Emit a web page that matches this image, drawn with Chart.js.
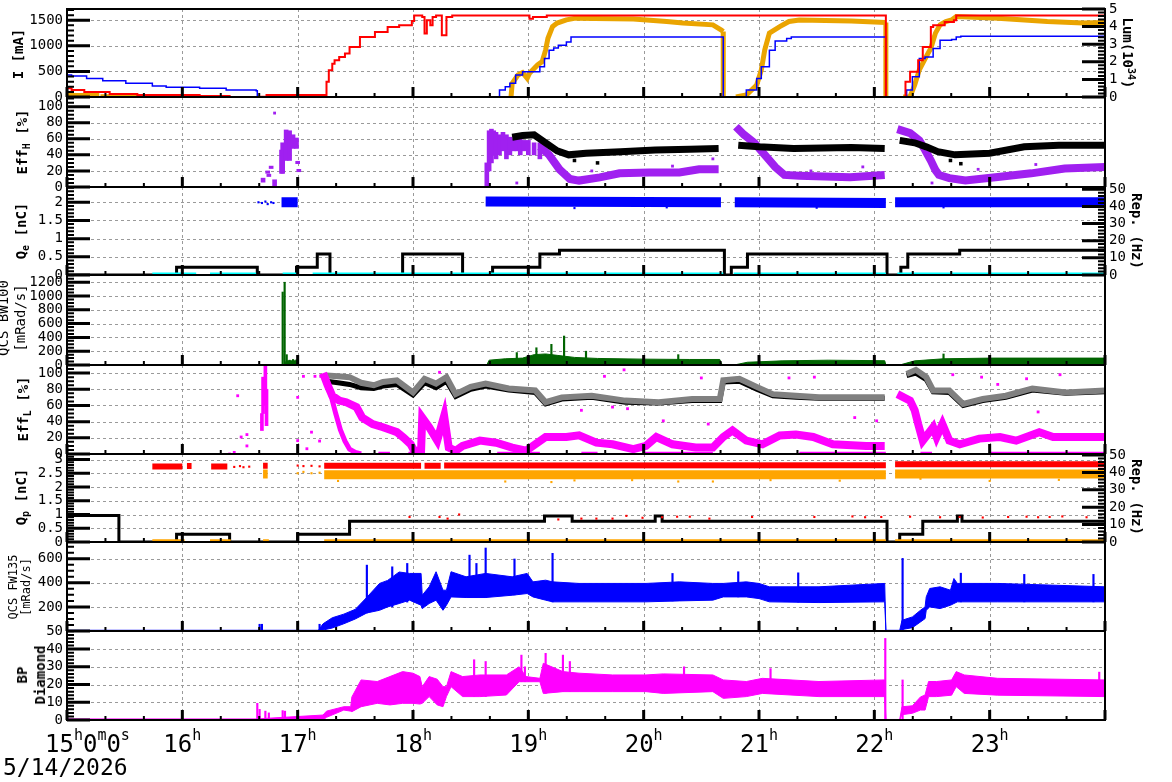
<!DOCTYPE html>
<html>
<head>
<meta charset="utf-8">
<title>Run summary 5/14/2026</title>
<script src="https://cdn.jsdelivr.net/npm/chart.js@4.4.1/dist/chart.umd.min.js"></script>
<style>
  body { margin: 0; background: #fff; }
  #wrap { position: relative; width: 1172px; height: 782px; overflow: hidden; font-family: "DejaVu Sans Mono", monospace; color: #000; }
  #wrap canvas { position: absolute; left: 0; }
  .ttl { position: absolute; white-space: nowrap; text-align: center; font-weight: bold; font-size: 14px; line-height: 17px;
         transform: translate(-50%, -50%) rotate(-90deg); }
  .ttl.r { transform: translate(-50%, -50%) rotate(90deg); }
  .ttl.thin { font-weight: normal; }
  .ttl sub, .ttl sup { font-size: 10px; line-height: 0; }
  #date { position: absolute; left: 3px; top: 756px; font-size: 23px; line-height: 23px; }
</style>
</head>
<body>
<div id="wrap">
  <div class="ttl" style="left:18px;top:54px">I [mA]</div>
  <div class="ttl r" style="left:1127px;top:53px">Lum(10<sup>34</sup>)</div>
  <div class="ttl" style="left:22px;top:142px">Eff<sub>H</sub> [%]</div>
  <div class="ttl" style="left:21px;top:231px">Q<sub>e</sub> [nC]</div>
  <div class="ttl r" style="left:1136px;top:231px">Rep. (Hz)</div>
  <div class="ttl thin" style="left:12px;top:318px">QCS BW100<br>[mRad/s]</div>
  <div class="ttl" style="left:23px;top:409px">Eff<sub>L</sub> [%]</div>
  <div class="ttl" style="left:21px;top:497px">Q<sub>p</sub> [nC]</div>
  <div class="ttl r" style="left:1136px;top:497px">Rep. (Hz)</div>
  <div class="ttl thin" style="left:20px;top:587px;font-size:12px;line-height:13px">QCS FW135<br>[mRad/s]</div>
  <div class="ttl" style="left:31px;top:675px;line-height:18px">BP<br>Diamond</div>
  <div id="date">5/14/2026</div>
</div>
<script>
// ---- time axis (hours of the day) ----
const hourLabels = [16, 17, 18, 19, 20, 21, 22, 23];

// ---- panel 1: beam currents [mA] and luminosity [1e34] ----
const iRedT = [15.00,15.04,15.15,15.37,15.61,16.15,16.41,16.67,16.73,17.23,17.25,17.27,17.30,17.32,17.36,17.41,17.45,17.54,17.67,17.78,17.88,17.99,18.01,18.08,18.10,18.12,18.15,18.17,18.20,18.25,18.29,18.34,18.98,19.01,19.04,19.16,22.10,22.22,22.27,22.31,22.38,22.42,22.49,22.51,22.61,22.69,22.71,24.00];
const iRedV = [169,136,97,58,39,19,0,6,39,39,300,525,650,720,784,850,979,1173,1270,1368,1401,1484,1595,1562,1239,1498,1400,1562,1595,1206,1562,1595,1595,1531,1562,1595,0,0,298,492,720,979,1368,1401,1465,1498,1595,1595];
const iBlueT = [15.00,15.04,15.17,15.31,15.51,15.74,15.86,16.15,16.38,16.64,16.65,17.00,18.68,18.75,18.80,18.84,18.89,18.95,19.10,19.14,19.18,19.22,19.26,19.33,19.37,20.69,20.82,20.89,20.98,21.02,21.09,21.14,21.24,21.28,22.10,22.22,22.28,22.33,22.39,22.44,22.51,22.57,22.67,22.71,22.75,24.00];
const iBlueV = [428,409,364,317,268,214,189,169,136,123,0,6,3,136,200,267,428,492,590,753,914,960,1012,1076,1173,0,0,136,364,590,914,1095,1142,1173,0,0,136,395,753,784,947,1109,1122,1173,1187,1187];
const lumT = [15.00,15.28,15.285,15.29,15.61,15.65,15.70,16.09,16.10,18.85,18.86,18.91,18.95,18.99,19.01,19.08,19.12,19.15,19.17,19.21,19.25,19.33,19.41,19.91,20.20,20.34,20.60,20.67,20.69,20.69,20.70,20.80,20.89,20.98,21.02,21.05,21.09,21.18,21.26,21.35,21.80,22.10,22.10,22.11,22.25,22.31,22.35,22.39,22.45,22.49,22.53,22.57,22.62,22.67,22.71,23.07,23.50,23.81,24.00];
const lumV = [0.08,0.08,null,0.01,0.01,null,0.01,0.01,null,0,0.78,1.25,1.38,1.06,1.35,1.82,2.01,2.68,3.34,4.0,4.2,4.38,4.48,4.43,4.29,4.2,4.1,3.82,3.72,0,null,0,0.11,0.68,1.54,2.68,3.63,4.0,4.29,4.38,4.32,4.23,0,null,0,0.02,0.68,1.54,2.29,2.77,3.63,4.1,4.29,4.38,4.57,4.48,4.29,4.2,4.23];

// ---- panel 2: HER efficiency [%] ----
const effHClT  = [16.70,16.74,16.75,16.77,16.80,16.86,16.87,16.90,16.93,16.96,16.99,17.00,17.01,18.64,18.66,18.68,18.70,18.72,18.75,18.78,18.81,18.84,18.87,18.90,18.93,18.96,19.00,19.05,19.10];
const effHClLo = [6,17,13,23,0,17,17,33,33,48,48,29,19,0,20,30,40,35,40,45,35,40,45,45,40,45,40,40,35];
const effHClHi = [11,20,16,26,9,46,55,71,70,65,61,32,22,30,70,72,70,68,65,68,65,62,60,62,60,58,58,55,55];
const effHPurT = [19.10,19.18,19.27,19.36,19.44,19.62,19.79,20.05,20.31,20.48,20.65,20.68,20.80,20.87,20.96,21.05,21.14,21.22,21.35,21.79,22.09,22.12,22.20,22.31,22.39,22.44,22.49,22.53,22.56,22.65,22.79,23.07,23.36,23.65,24.00];
const effHPurV = [50,40,22,10,8,12,17,18,18,22,22,null,75,65,55,40,25,15,14,12,15,null,72,67,58,46,33,21,15,11,8,12.5,17,23,25];
const effHBlkT = [18.86,18.95,19.05,19.15,19.25,19.35,19.50,19.80,20.10,20.40,20.65,20.68,20.82,21.00,21.30,21.80,22.09,22.12,22.22,22.35,22.45,22.55,22.70,23.00,23.30,23.60,24.00];
const effHBlkV = [62,64,65,55,45,40,42,44,46,47,48,null,52,50,48,49,48,null,58,55,50,44,40,42,50,52,52];
const effHPurDotT = [16.80,18.90,19.55,20.25,20.60,21.45,21.90,22.50,22.90,23.40];
const effHPurDotV = [92,5,20,26,35,20,25,5,22,28];
const effHBlkDotT = [19.40,19.60,22.66,22.75];
const effHBlkDotV = [33,30,33,29];

// ---- panel 3: e- bunch charge [nC], rep rate [Hz] ----
const qeT = [16.86,17.00,17.01,18.63,20.67,20.68,20.79,22.10,22.12,22.18,24.00];
const qeV = [2.0,2.0,null,2.02,2.0,null,2.0,1.98,null,2.0,2.0];
const qeDotT = [16.66,16.69,16.72,16.74,16.77,16.79,19.40,20.20,21.50,22.60];
const qeDotV = [2.0,1.98,2.02,1.95,2.0,1.98,1.84,1.86,1.85,1.86];
const cyanT = [15.74,16.12,16.13,16.24,16.64,16.65,16.87,17.01,17.02,17.13,20.69,20.70,20.78,22.10,22.11,22.20,24.00];
const cyanV = [0.015,0.015,null,0.015,0.015,null,0.015,0.015,null,0.015,0.015,null,0.015,0.015,null,0.015,0.015];
const repET = [15.00,15.95,16.65,16.99,17.17,17.28,17.91,18.43,18.69,19.10,19.27,20.70,20.76,20.90,22.11,22.23,22.29,22.74,24.00];
const repEV = [0,4.5,0,4.5,12.2,0,12.2,0,4.5,12.2,14.5,0,4.5,12.2,0,4.5,12.2,14.5,14.5];

// ---- panel 4: QCS BW100 [mRad/s] ----
const bw100T = [15.00,16.89,16.90,17.00,17.01,18.64,18.66,18.80,18.95,19.05,19.15,19.25,19.40,19.60,20.00,20.40,20.66,20.68,20.80,20.90,21.20,21.60,22.09,22.10,22.22,22.35,22.60,23.00,23.50,24.00];
const bw100V = [0,0,60,60,0,0,70,90,100,150,160,140,110,95,85,80,80,5,5,40,60,70,62,0,0,60,90,100,100,100];
const bw100SpT = [16.870,16.887,16.905,16.930,16.960,16.990,18.900,19.070,19.200,19.310,19.500,20.300,22.600];
const bw100SpV = [1058,1200,150,70,80,75,180,250,300,420,200,150,160];

// ---- panel 5: LER efficiency [%] ----
const effLMagT = [17.22,17.26,17.30,17.36,17.42,17.51,17.56,17.65,17.74,17.82,17.86,17.92,17.98,18.01,18.07,18.08,18.14,18.21,18.27,18.31,18.37,18.43,18.58,18.72,18.86,18.98,19.15,19.33,19.44,19.59,19.73,19.91,20.02,20.11,20.25,20.45,20.60,20.69,20.77,20.89,21.03,21.18,21.32,21.47,21.64,21.93,22.09,22.12,22.20,22.31,22.35,22.38,22.42,22.51,22.54,22.59,22.65,22.74,22.91,23.09,23.23,23.43,23.55,23.75,24.00];
const effLMagV = [100,85,72,66,64,58,45,37,33,29,27,20,12,4,4,45,33,16.5,47,8,4,10,16.5,14,8,4,21,21,23,14,12,6,10,21,12,8,8,21,29,16.5,12,23,24,21,12,10,10,null,74,66,54,37,16.5,33,21,37,16.5,12,19,21,16.5,27,21,21,21];
const effLMagAT = [17.23,17.26,17.29,17.33,17.37,17.41,17.45,17.50,17.55];
const effLMagAV = [98,88,72,50,30,16,6,2,0];
const effLClT  = [16.69,16.70,16.72,16.73];
const effLClLo = [29,50,60,35];
const effLClHi = [50,95,110,80];
const effLDotT = [16.41,16.45,16.48,16.51,16.56,16.56,17.00,17.00,17.05,17.08,17.12,17.15,17.19,17.20,18.23,19.46,19.66,19.73,19.83,19.86,20.17,20.50,20.56,21.26,21.48,21.83,22.02,22.68,22.93,23.07,23.32,23.42,23.61];
const effLDotV = [0,2,72,21,24,10,70,16.5,96,6.5,27,96,16,96,101,54,96,58,104,56,41,94,37,94,95,45,41,98,95,86,93,52,98];
const effLZeroT = [17.70,17.80,17.81,17.96,18.08,18.09,18.73,19.10,19.11,19.46,19.60,19.61,20.00,20.60,20.61,21.35,22.10,22.11,22.40,22.50,22.51,23.00,24.00];
const effLZeroV = [1,1,null,1,1,null,1,1,null,1,1,null,1,1,null,1,1,null,1,1,null,1,1];
const effLGryT = [17.25,17.35,17.45,17.55,17.66,17.74,17.86,18.00,18.10,18.20,18.29,18.37,18.50,18.63,18.83,19.06,19.15,19.29,19.55,19.84,20.13,20.42,20.66,20.69,20.83,20.98,21.12,21.32,21.52,22.09,22.12,22.28,22.36,22.45,22.51,22.65,22.77,22.94,23.14,23.37,23.66,24.00];
const effLGryV = [97,96,95,88,85,89,91,76,93,87,95,74,83,87,81,78.5,64,70,72,66,64,68,68,91,93,83,74,72,70,70,null,99,104,95,78.5,78.5,62,68,72,81,76,78.5];
const effLBlkT = [17.25,17.35,17.45,17.55,17.66,17.74,17.86,18.00,18.10,18.20,18.29,18.37,18.50,18.63,18.83,19.06,19.15,19.29,19.55,19.84,20.13,20.42,20.66,20.69,20.83,20.98,21.12,21.32,21.52,22.09,22.12,22.28,22.36,22.45,22.51,22.65,22.77,22.94,23.14,23.37,23.66,24.00];
const effLBlkV = [90,88,86,82,81,84,86,73,88,82,90,71,80,84,79,76,62,68,70,64,63,66,66,89,90,80,72,70,69,69,null,97,100,92,77,76,60,66,70,79,75,77];

// ---- panel 6: e+ bunch charge [nC], rep rate [Hz] ----
const redQT = [15.74,16.00,16.01,16.04,16.08,16.09,16.25,16.39,16.40,16.70,16.74,16.75,17.23,18.07,18.08,18.10,18.24,18.25,18.27,22.10,22.11,22.18,24.00];
const redQV = [2.75,2.75,null,2.76,2.76,null,2.75,2.75,null,2.77,2.77,null,2.77,2.77,null,2.77,2.77,null,2.78,2.79,null,2.83,2.83];
const redDotT = [16.45,16.50,16.53,16.58,17.00,17.05,17.12,17.19,17.97,18.23,18.30,18.40,19.26,19.46,19.59,19.73,19.85,19.99,20.16,20.29,20.40,20.57,20.94,21.48,21.81,21.92,22.06,22.31,22.57,22.74,22.94,23.16,23.32,23.42,23.52,23.63,23.84];
const redDotV = [2.73,2.76,2.72,2.74,2.78,2.76,2.77,2.75,0.91,0.91,0.85,1.0,0.82,0.85,0.85,0.85,0.95,0.88,0.9,0.92,0.92,0.85,0.91,0.91,0.93,0.9,0.91,0.92,0.9,0.91,0.89,0.91,0.92,0.9,0.91,0.93,0.9];
const oraQT = [16.70,16.74,16.75,17.23,22.10,22.11,22.18,24.00];
const oraQV = [2.47,2.47,null,2.45,2.45,null,2.47,2.47];
const oraDotT = [17.00,17.05,17.12,17.19,17.35,18.80,19.20,19.40,19.90,20.30,20.60,21.10,21.70,22.40,23.00,23.60];
const oraDotV = [2.5,2.55,2.5,2.52,2.22,2.2,2.18,2.24,2.25,2.2,2.2,2.25,2.23,2.3,2.22,2.26];
const ora0T = [15.74,16.02,16.03,16.24,16.42,16.43,16.70,16.75,16.76,17.23,22.10,22.11,22.18,24.00];
const ora0V = [0.05,0.05,null,0.05,0.05,null,0.05,0.05,null,0.05,0.05,null,0.05,0.05];
const repPT = [15.00,15.45,15.95,16.41,17.00,17.45,19.14,19.38,20.10,20.16,22.11,22.22,22.42,22.72,22.76,24.00];
const repPV = [15.3,0,4.4,0,4.4,12,15,12,15,12,0,4.4,12,15,12,12];

// ---- panel 7: QCS FW135 [mRad/s], band low/high ----
const fwT  = [15.00,17.18,17.22,17.30,17.40,17.50,17.60,17.71,17.78,17.88,17.97,18.07,18.08,18.14,18.20,18.26,18.29,18.33,18.46,18.63,18.86,18.99,19.04,19.15,19.21,19.44,20.02,20.31,20.60,20.69,20.89,21.00,21.09,21.52,22.09,22.10,22.22,22.24,22.33,22.40,22.44,22.45,22.48,22.57,22.66,22.69,22.72,23.07,24.00];
const fwLo = [0,0,8,25,60,100,150,172,200,228,256,214,186,228,256,172,214,283,278,278,297,311,283,256,242,242,242,250,256,283,283,269,242,236,242,5,5,12,28,75,103,172,200,186,214,228,242,242,242];
const fwHi = [6,6,60,110,140,180,280,395,420,490,478,478,297,367,492,339,339,492,450,478,450,478,408,422,408,395,395,408,395,395,408,395,367,367,395,5,5,89,117,172,200,283,353,367,339,436,395,395,367];
const fwSpT  = [16.67,16.69,17.19,17.60,17.82,17.95,18.49,18.55,18.63,18.88,19.21,20.25,20.82,21.34,22.245,22.75,23.30,23.90];
const fwSpLo = [0,0,0,150,200,240,278,278,278,300,242,250,283,240,5,242,242,242];
const fwSpHi = [56,56,56,547,533,561,630,561,689,598,645,478,492,483,603,480,470,470];

// ---- panel 8: BP diamond, band low/high ----
const bpT  = [15.00,16.64,17.22,17.25,17.40,17.46,17.47,17.55,17.69,17.80,17.91,18.00,18.06,18.08,18.14,18.21,18.26,18.29,18.33,18.43,18.58,18.81,18.92,18.98,19.10,19.13,19.30,19.44,19.73,20.02,20.17,20.60,20.69,20.89,21.03,21.52,22.09,22.10,22.22,22.24,22.33,22.40,22.44,22.47,22.54,22.67,22.71,22.78,23.07,24.00];
const bpLo = [0,0,0,1.5,5.6,5,4.7,7.5,9.4,8.5,9.4,9.4,9,9.4,13.2,8.5,7.5,13.2,18.8,13.2,13.2,14.1,21.6,21.6,21.6,15,16,16,16,16,15,16,12.2,13.2,15,13.2,13.2,0,0,3,3.8,5.6,5.6,13.2,13.2,14,18.8,15,14,13.2];
const bpHi = [0.6,0.6,2.8,5,7.5,7.5,13,22.6,21.7,24.5,27.3,26.4,24.5,18.8,24.5,23,18.8,18.8,27.3,24.5,25.4,25.4,30,24.5,23.5,32,27.3,26.4,25.4,25.4,26,25.4,22.6,21.7,23.5,21.7,22.6,0.3,0.3,7.5,8,13,14.1,21.7,21.7,22.6,27.3,25.4,23.5,22.6];
const bpSpT  = [16.65,16.67,16.72,16.75,16.87,16.89,18.53,18.63,18.94,18.97,19.15,19.30,19.36,20.35,21.10,22.095,22.245,23.95];
const bpSpLo = [0,0,0,0,0,0,13.2,13.2,21.6,21.6,15,16,16,16,15,0,0,13.2];
const bpSpHi = [9.4,6,5,4,5.3,5,34,33,36.6,30,37.6,36.6,33,30,29,46,22.6,27];

// ---- helpers ----
const W = 1172, PLOT_L = 67, PLOT_R = 1105, PAD_T = 14;
const FONT = '"DejaVu Sans Mono", monospace';
const panels = [[9, 97], [97, 187], [187, 275], [275, 365], [365, 454], [454, 542], [542, 631], [631, 720]];
const wrap = document.getElementById('wrap');

function pts(T, V) { return T.map((t, i) => ({ x: t, y: V[i] })); }

function line(T, V, color, width, extra) {
  return Object.assign({
    type: 'line', data: pts(T, V), borderColor: color, backgroundColor: color,
    borderWidth: width, pointRadius: 0, tension: 0, spanGaps: false, fill: false
  }, extra || {});
}

function dots(T, V, color, r, extra) {
  return Object.assign({
    type: 'line', data: pts(T, V), showLine: false, pointStyle: 'rect',
    pointRadius: r, pointBackgroundColor: color, pointBorderWidth: 0, borderColor: color
  }, extra || {});
}

function floatBars(T, LO, HI, color, w) {
  return { type: 'bar', data: T.map((t, i) => ({ x: t, y: [LO[i], HI[i]] })), backgroundColor: color, barThickness: w };
}

function spikes(T, V, color, w) {
  return { type: 'bar', data: pts(T, V), backgroundColor: color, barThickness: w };
}

// vertical drops drawn dashed, like the marker columns in the original
const dashVertical = { borderDash: c => (c.p0.parsed.x === c.p1.parsed.x ? [5, 4] : undefined) };

function richText(ctx, parts, x, base, center) {
  const big = '24px ' + FONT, small = '15px ' + FONT;
  let w = 0;
  parts.forEach(p => { ctx.font = p[1] ? small : big; w += ctx.measureText(p[0]).width; });
  let cx = center ? x - w / 2 : x;
  parts.forEach(p => {
    ctx.font = p[1] ? small : big;
    ctx.fillText(p[0], cx, p[1] ? base - 12 : base);
    cx += ctx.measureText(p[0]).width;
  });
}

const frameTicks = {
  id: 'frameTicks',
  beforeDatasetsDraw(chart) {
    const { ctx, chartArea: a, scales } = chart;
    ctx.save();
    ctx.strokeStyle = '#9a9a9a';
    ctx.lineWidth = 1;
    ctx.setLineDash([3, 3]);
    ctx.beginPath();
    scales.x.ticks.forEach(t => {
      if (t.value <= scales.x.min || t.value >= scales.x.max) return;
      const x = Math.round(scales.x.getPixelForValue(t.value)) + 0.5;
      ctx.moveTo(x, a.top); ctx.lineTo(x, a.bottom);
    });
    scales.y.ticks.forEach(t => {
      const y = Math.round(scales.y.getPixelForValue(t.value)) + 0.5;
      if (y <= a.top + 2 || y >= a.bottom - 2) return;
      ctx.moveTo(a.left, y); ctx.lineTo(a.right, y);
    });
    ctx.stroke();
    ctx.restore();
  },
  afterDatasetsDraw(chart, args, opts) {
    const { ctx, chartArea: a, scales } = chart;
    ctx.save();
    ctx.setLineDash([]);
    ctx.strokeStyle = '#000';
    ctx.lineWidth = 2;
    ctx.strokeRect(a.left, a.top, a.right - a.left, a.bottom - a.top);

    const major = new Path2D(), minor = new Path2D();
    // time ticks: hours long, every 20 min short, pointing into the plot
    for (let m = 0; m <= 9 * 60; m += 20) {
      const x = scales.x.getPixelForValue(15 + m / 60);
      const p = m % 60 === 0 ? major : minor;
      p.moveTo(x, a.bottom); p.lineTo(x, a.bottom - (m % 60 === 0 ? 10 : 4));
    }
    function yTicks(scale, step, x0, dir) {
      if (!scale || !step) return;
      for (let k = Math.ceil(scale.min / step - 1e-6); k * step <= scale.max + 1e-6; k++) {
        const v = k * step, y = scale.getPixelForValue(v);
        const isMajor = scale.ticks.some(t => Math.abs(t.value - v) < step / 10);
        const p = isMajor ? major : minor;
        p.moveTo(x0, y); p.lineTo(x0 + dir * (isMajor ? 23 : 7), y);
      }
    }
    yTicks(scales.y, opts.minor, a.left, 1);
    yTicks(scales.y2, opts.minor2, a.right, -1);
    ctx.lineWidth = 3; ctx.stroke(major);
    ctx.lineWidth = 2; ctx.stroke(minor);
    ctx.restore();
  },
  afterDraw(chart, args, opts) {
    if (!opts.hours) return;
    const { ctx, chartArea: a, scales } = chart;
    const base = a.bottom + 32;
    ctx.save();
    ctx.fillStyle = '#000';
    ctx.textAlign = 'left';
    ctx.textBaseline = 'alphabetic';
    richText(ctx, [['15', 0], ['h', 1], ['0', 0], ['m', 1], ['0', 0], ['s', 1]], 45, base, false);
    hourLabels.forEach(h => {
      richText(ctx, [[String(h), 0], ['h', 1]], scales.x.getPixelForValue(h), base, true);
    });
    ctx.restore();
  }
};

function yScale(pos, a) {
  return {
    type: 'linear', position: pos, min: a.min, max: a.max, stacked: false,
    afterBuildTicks: s => { s.ticks = a.ticks.map(v => ({ value: v })); },
    afterFit: s => { s.width = pos === 'left' ? PLOT_L : W - PLOT_R; },
    ticks: { color: '#000', padding: 4, autoSkip: false, font: { family: FONT, size: 14 }, callback: a.fmt || (v => String(v)) },
    grid: { display: false, drawTicks: false },
    border: { display: false }
  };
}

function makePanel(i, datasets, left, right, last) {
  const [top, bot] = panels[i];
  const padBot = last ? 782 - bot : 14;
  const cv = document.createElement('canvas');
  cv.width = W;
  cv.height = bot - top + PAD_T + padBot;
  cv.style.top = (top - PAD_T) + 'px';
  wrap.insertBefore(cv, wrap.firstChild);
  const scales = {
    x: {
      type: 'linear', min: 15, max: 24, offset: false,
      ticks: { display: false, stepSize: 1 },
      grid: { display: false, drawTicks: false }, border: { display: false },
      afterFit: s => { s.height = padBot; }
    },
    y: yScale('left', left)
  };
  if (right) scales.y2 = yScale('right', right);
  return new Chart(cv, {
    type: 'line',
    data: { datasets },
    options: {
      responsive: false, animation: false, events: [], devicePixelRatio: 1,
      layout: { padding: { top: PAD_T, left: 0, bottom: 0, right: right ? 0 : W - PLOT_R } },
      plugins: {
        legend: { display: false }, tooltip: { enabled: false },
        frameTicks: { minor: left.minor, minor2: right ? right.minor : null, hours: !!last }
      },
      scales
    },
    plugins: [frameTicks]
  });
}

const RED = '#ff0000', BLUE = '#0000ff', GOLD = '#eaa400', ORANGE = '#ffa500', PURPLE = '#a020f0',
      MAGENTA = '#ff00ff', GREEN = '#006400', CYAN = '#00ffff', GRAY = '#808080', BLACK = '#000000';

// panel 1
makePanel(0, [
  line(iRedT, iRedV, RED, 2, { stepped: true }),
  line(iBlueT, iBlueV, BLUE, 1.5, { stepped: true }),
  line(lumT, lumV, GOLD, 5, { yAxisID: 'y2', segment: dashVertical })
], { min: 0, max: 1720, ticks: [0, 500, 1000, 1500], minor: 100 },
   { min: 0, max: 5, ticks: [0, 1, 2, 3, 4, 5], minor: 0.2 });

// panel 2
makePanel(1, [
  dots(effHBlkDotT, effHBlkDotV, BLACK, 2.5),
  line(effHBlkT, effHBlkV, BLACK, 7),
  dots(effHPurDotT, effHPurDotV, PURPLE, 2),
  line(effHPurT, effHPurV, PURPLE, 8),
  floatBars(effHClT, effHClLo, effHClHi, PURPLE, 4)
], { min: 0, max: 112, ticks: [0, 20, 40, 60, 80, 100], minor: 5 });

// panel 3
makePanel(2, [
  line(cyanT, cyanV, CYAN, 4),
  line(repET, repEV, BLACK, 3, { stepped: true, yAxisID: 'y2' }),
  dots(qeDotT, qeDotV, BLUE, 1.5),
  line(qeT, qeV, BLUE, 10)
], { min: 0, max: 2.42, ticks: [0, 0.5, 1, 1.5, 2], minor: 0.1 },
   { min: 0, max: 51.3, ticks: [0, 10, 20, 30, 40, 50], minor: 2 });

// panel 4
makePanel(3, [
  line(bw100T, bw100V, GREEN, 1, { fill: 'origin' }),
  spikes(bw100SpT, bw100SpV, GREEN, 1.5)
], { min: 0, max: 1305, ticks: [0, 200, 400, 600, 800, 1000, 1200], minor: 50 });

// panel 5
makePanel(4, [
  dots(effLDotT, effLDotV, MAGENTA, 2),
  line(effLMagAT, effLMagAV, MAGENTA, 5),
  line(effLMagT, effLMagV, MAGENTA, 8),
  line(effLZeroT, effLZeroV, MAGENTA, 3),
  floatBars(effLClT, effLClLo, effLClHi, MAGENTA, 3),
  line(effLGryT, effLGryV, GRAY, 6),
  line(effLBlkT, effLBlkV, BLACK, 5)
], { min: 0, max: 110, ticks: [0, 20, 40, 60, 80, 100], minor: 5 });

// panel 6
makePanel(5, [
  line(ora0T, ora0V, ORANGE, 3),
  dots(redDotT, redDotV, RED, 1.5),
  line(repPT, repPV, BLACK, 3, { stepped: true, yAxisID: 'y2' }),
  line(redQT, redQV, RED, 6),
  dots(oraDotT, oraDotV, ORANGE, 1.5),
  line(oraQT, oraQV, ORANGE, 9)
], { min: 0, max: 3.2, ticks: [0, 0.5, 1, 1.5, 2, 2.5, 3], minor: 0.1 },
   { min: 0, max: 50.6, ticks: [0, 10, 20, 30, 40, 50], minor: 2 });

// panel 7
makePanel(6, [
  line(fwT, fwLo, BLUE, 1),
  line(fwT, fwHi, BLUE, 1, { fill: '-1' }),
  floatBars(fwSpT, fwSpLo, fwSpHi, BLUE, 1.5)
], { min: 0, max: 739, ticks: [0, 200, 400, 600], minor: 50, fmt: v => (v === 0 ? '50' : String(v)) });

// panel 8
makePanel(7, [
  line(bpT, bpLo, MAGENTA, 1),
  line(bpT, bpHi, MAGENTA, 1, { fill: '-1' }),
  floatBars(bpSpT, bpSpLo, bpSpHi, MAGENTA, 1.5)
], { min: 0, max: 50.2, ticks: [0, 10, 20, 30, 40], minor: 2 }, null, true);
</script>
</body>
</html>
